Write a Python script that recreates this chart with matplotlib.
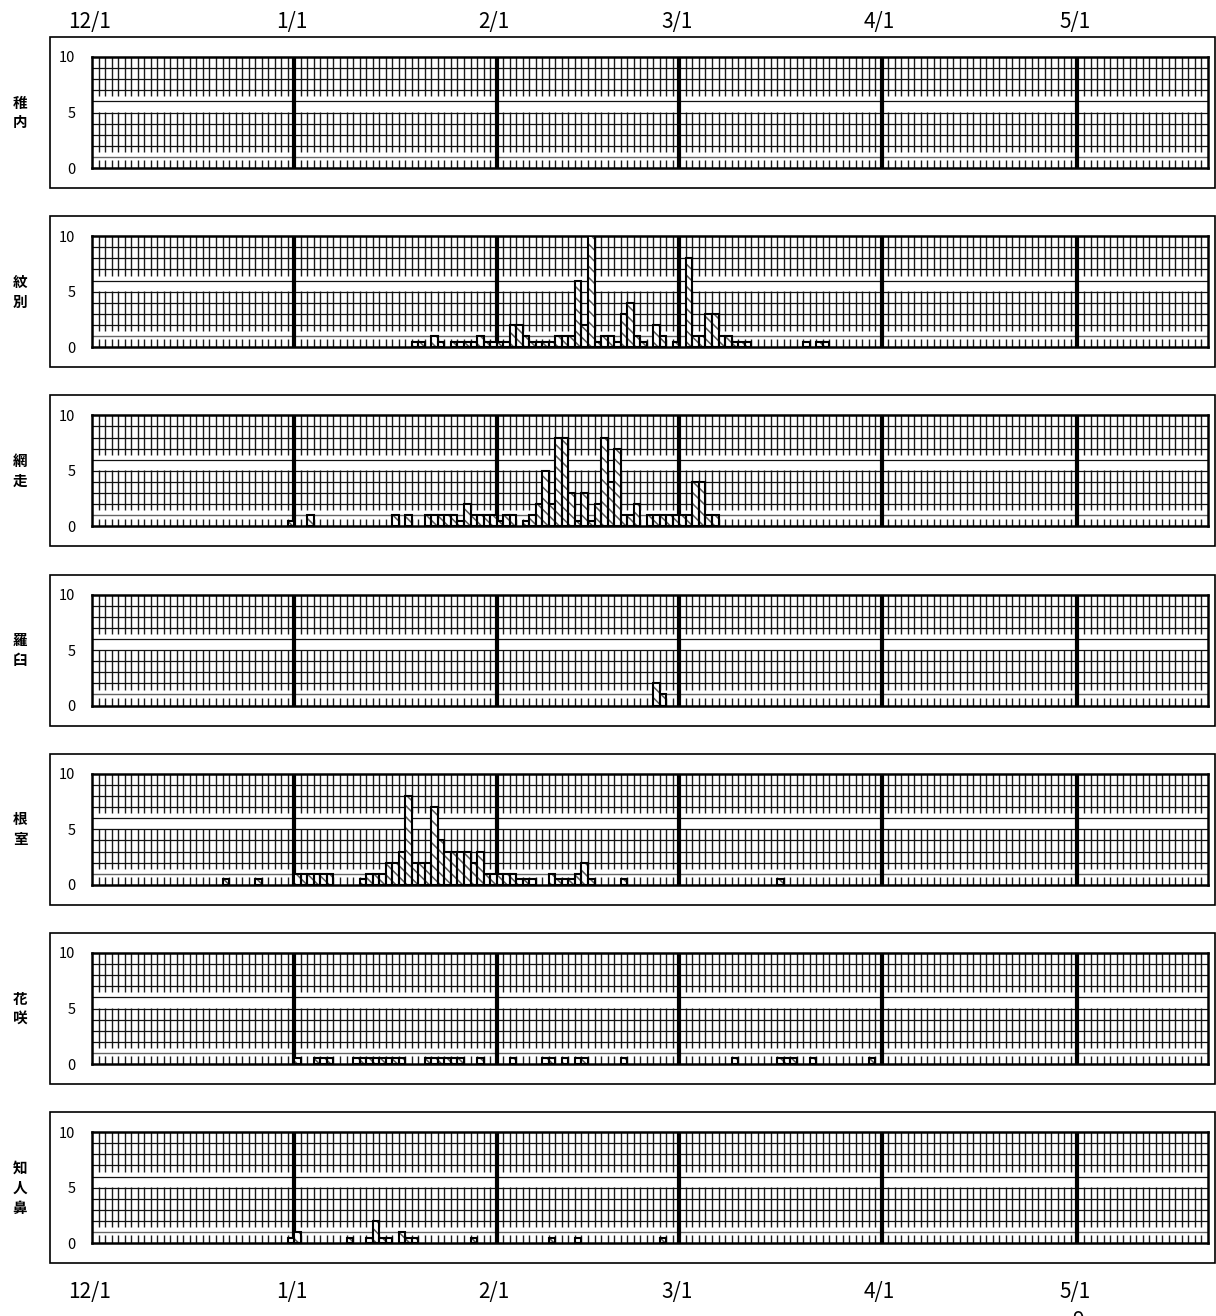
import matplotlib.pyplot as plt
import matplotlib.patches as mpatches
import matplotlib.transforms as mtransforms
import numpy as np

plt.rcParams['font.family'] = ['Noto Sans CJK JP', 'DejaVu Sans']
plt.rcParams['hatch.linewidth'] = 1.1

W, H = 1216, 1316

stations = ['稚内', '紋別', '網走', '羅臼', '根室', '花咲', '知人鼻']
month_labels = ['12/1', '1/1', '2/1', '3/1', '4/1', '5/1']
month_days = [0, 31, 62, 90, 121, 151]   # days counted from 12/1
ndays = 171
yticks = [0, 5, 10]

# (day from 12/1, value)
wakkanai = []
mombetsu = [(49, .5), (50, .5), (52, 1), (53, .5), (55, .5), (56, .5), (57, .5), (58, .5),
            (59, 1), (60, .5), (61, .5), (62, .5), (63, .5), (64, 2), (65, 2), (66, 1),
            (67, .5), (68, .5), (69, .5), (70, .5), (71, 1), (72, 1), (73, 1), (74, 6),
            (75, 2), (76, 10), (77, .5), (78, 1), (79, 1), (80, .5), (81, 3), (82, 4),
            (83, 1), (84, .5), (86, 2), (87, 1), (89, .5), (91, 8), (92, 1), (93, 1),
            (94, 3), (95, 3), (96, 1), (97, 1), (98, .5), (99, .5), (100, .5),
            (109, .5), (111, .5), (112, .5)]
abashiri = [(30, .5), (33, 1), (46, 1), (48, 1), (51, 1), (52, 1), (53, 1), (54, 1),
            (55, 1), (56, .5), (57, 2), (58, 1), (59, 1), (60, 1), (61, 1), (62, .5),
            (63, 1), (64, 1), (66, .5), (67, 1), (68, 2), (69, 5), (70, 2), (71, 8),
            (72, 8), (73, 3), (74, .5), (75, 3), (76, .5), (77, 2), (78, 8), (79, 4),
            (80, 7), (81, 1), (82, 1), (83, 2), (85, 1), (86, 1), (87, 1), (88, 1),
            (89, 1), (90, 1), (91, 1), (92, 4), (93, 4), (94, 1), (95, 1)]
rausu = [(86, 2), (87, 1)]
nemuro = [(20, .5), (25, .5), (31, 1), (32, 1), (33, 1), (34, 1), (35, 1), (36, 1),
          (41, .5), (42, 1), (43, 1), (44, 1), (45, 2), (46, 2), (47, 3), (48, 8),
          (49, 2), (50, 2), (51, 2), (52, 7), (53, 4), (54, 3), (55, 3), (56, 3),
          (57, 3), (58, 2), (59, 3), (60, 1), (61, 1), (62, 1), (63, 1), (64, 1),
          (65, .5), (66, .5), (67, .5), (70, 1), (71, .5), (72, .5), (73, .5),
          (74, 1), (75, 2), (76, .5), (81, .5), (105, .5)]
hanasaki = [(31, .5), (34, .5), (35, .5), (36, .5), (40, .5), (41, .5), (42, .5),
            (43, .5), (44, .5), (45, .5), (46, .5), (47, .5), (51, .5), (52, .5),
            (53, .5), (54, .5), (55, .5), (56, .5), (59, .5), (64, .5), (69, .5),
            (70, .5), (72, .5), (74, .5), (75, .5), (81, .5), (98, .5), (105, .5),
            (106, .5), (107, .5), (110, .5), (119, .5)]
shiretoko = [(30, .5), (31, 1), (39, .5), (42, .5), (43, 2), (44, .5), (45, .5),
             (47, 1), (48, .5), (49, .5), (58, .5), (70, .5), (74, .5), (87, .5)]

series = [wakkanai, mombetsu, abashiri, rausu, nemuro, hanasaki, shiretoko]

fig = plt.figure(figsize=(W / 100, H / 100), dpi=100)

left, right = 92, 1208
ph = 111
step = 179.2
days = np.arange(1, ndays)
grid_days = [d for d in days if d not in month_days]

for i, (name, data) in enumerate(zip(stations, series)):
    top = 57 + i * step
    bot = top + ph
    # outer frame of the panel
    fig.patches.append(mpatches.Rectangle((50 / W, 1 - (bot + 20) / H), 1165 / W, (ph + 40) / H,
                                          transform=fig.transFigure, fill=False,
                                          edgecolor='black', lw=1.2))
    ax = fig.add_axes([left / W, 1 - bot / H, (right - left) / W, ph / H])
    ax.set_xlim(0, ndays)
    ax.set_ylim(0, 10)

    # grid
    for lo, hi in [(0, 0.7), (1.45, 5.05), (6.45, 10)]:
        ax.vlines(grid_days, lo, hi, color='#1a1a1a', lw=1.0, zorder=1)
    ax.hlines([2, 3, 4, 5, 6, 7, 8, 9], 0, ndays, color='#111111', lw=0.9, zorder=1)
    ax.hlines([1], 0, ndays, color='#666666', lw=1.0, zorder=1)
    for d in month_days[1:]:
        ax.axvline(d, color='black', lw=3, zorder=2)

    if data:
        x = [d for d, v in data]
        v = [v for d, v in data]
        ax.bar(x, v, width=1, align='edge', color='white', edgecolor='#555555',
               hatch='\\\\\\', lw=0, zorder=3)
        ax.bar(x, v, width=1, align='edge', fill=False, edgecolor='black', lw=1.5, zorder=4)

    ax.set_xticks([])
    ax.set_yticks(yticks)
    ax.set_yticklabels([str(t) for t in yticks], fontsize=10.5)
    ax.tick_params(axis='y', length=0, pad=12)
    for s in ax.spines.values():
        s.set_linewidth(1.8)

    fig.text(20 / W, 1 - (top + ph / 2) / H, '\n'.join(name), ha='center', va='center',
             fontsize=10.5, fontweight='bold', linespacing=1.3)

    if i == 0:
        ax_top = ax
    if i == len(stations) - 1:
        ax_bot = ax

# month labels above and below
for ax, ypix in [(ax_top, 22), (ax_bot, 1292)]:
    tr = mtransforms.blended_transform_factory(ax.transData, fig.transFigure)
    for lab, d in zip(month_labels, month_days):
        ax.text(d - 0.4, 1 - ypix / H, lab, transform=tr, ha='center', va='center',
                fontsize=15)

# page number, cut at the bottom edge as in the scan
fig.text(1078 / W, 1 - 1321 / H, '9', ha='center', va='center', fontsize=15)

fig.savefig('out.png', dpi=100)
